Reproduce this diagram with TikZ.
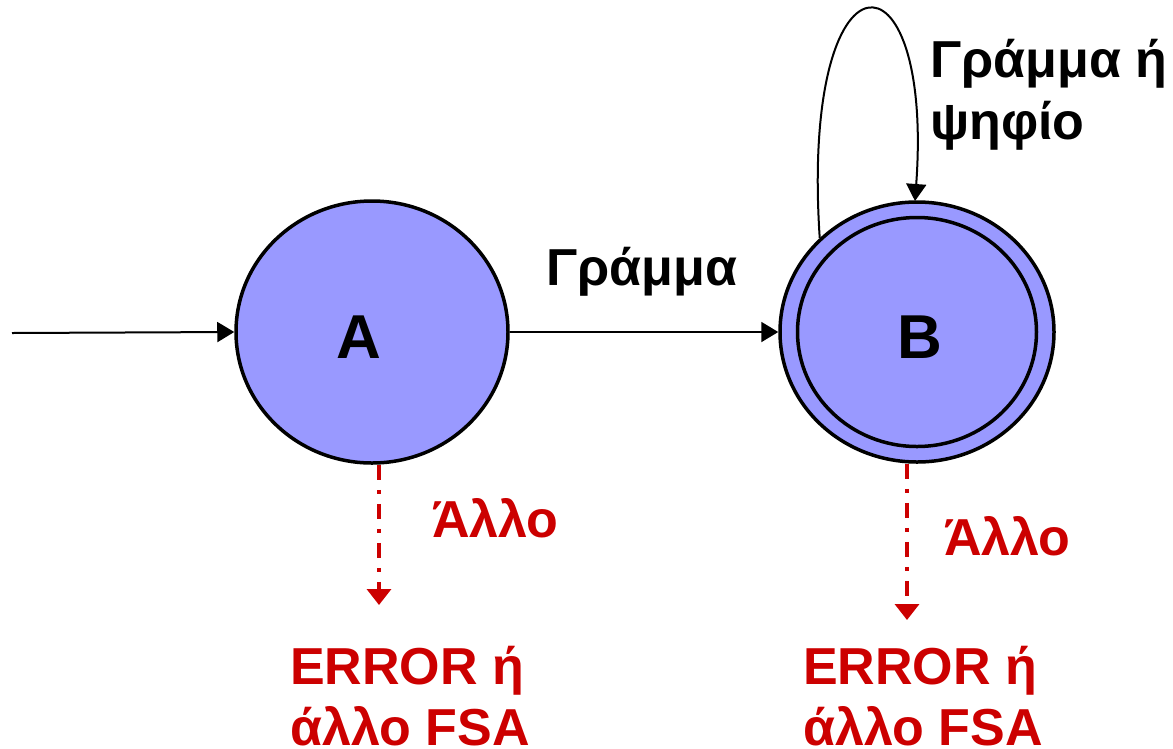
\documentclass[tikz,border=0pt]{standalone}
\usepackage{fontspec}
\setmainfont{Liberation Sans}
\usetikzlibrary{arrows.meta,shapes.geometric}
\definecolor{stfill}{RGB}{153,153,255}
\definecolor{errred}{RGB}{204,0,0}
\tikzset{
  state/.style={ellipse,draw=black,line width=3.5pt,fill=stfill,inner sep=0pt},
  lbl/.style={anchor=base west,inner sep=0pt,font=\fontsize{52}{62}\selectfont\bfseries},
  redlbl/.style={lbl,text=errred},
  arr/.style={line width=2pt,-{Triangle[width=20pt,length=17pt]}},
  errarr/.style={line width=3.5pt,draw=errred,dash pattern=on 15pt off 10pt on 4pt off 10pt,-{Triangle[width=24pt,length=16pt,fill=errred]}},
}
\begin{document}
\begin{tikzpicture}[x=1pt,y=-1pt]
\useasboundingbox (0,0) rectangle (1173,748);
\node[state,minimum width=272pt,minimum height=262pt] (A) at (372,332) {};
\node[state,minimum width=274pt,minimum height=260pt] (B) at (917,332) {};
\node[ellipse,draw=black,line width=3.5pt,inner sep=0pt,minimum width=239pt,minimum height=229pt] (Bi) at (917,332) {};
\node[lbl,font=\fontsize{62}{70}\selectfont\bfseries] (la) at (336,358) {A};
\node[lbl,font=\fontsize{62}{70}\selectfont\bfseries] (lb) at (897,358) {B};
\coordinate (start) at (12,333);
\draw[arr] (start) -- (A.west);
\draw[arr] (A.east) -- (B.west);
\node[lbl] (g) at (546,285) {Γράμμα};
\draw[line width=2pt,-{Triangle[width=20pt,length=17pt]}] (B.136) .. controls (800,-60) and (934,-60) .. (915,201);
\node[lbl] (g1) at (930,77) {Γράμμα ή};
\node[lbl] (g2) at (930,139) {ψηφίο};
\coordinate (ea) at (379,605);
\coordinate (eb) at (907,620);
\draw[errarr] (A.south -| ea) -- (ea);
\draw[errarr] (B.south -| eb) -- (eb);
\node[redlbl] (o1) at (432,537) {Άλλο};
\node[redlbl] (o2) at (944,555) {Άλλο};
\node[redlbl] (e1) at (290,684) {ERROR ή};
\node[redlbl] (f1) at (290,745) {άλλο FSA};
\node[redlbl] (e2) at (803,684) {ERROR ή};
\node[redlbl] (f2) at (803,745) {άλλο FSA};
\end{tikzpicture}
\end{document}
